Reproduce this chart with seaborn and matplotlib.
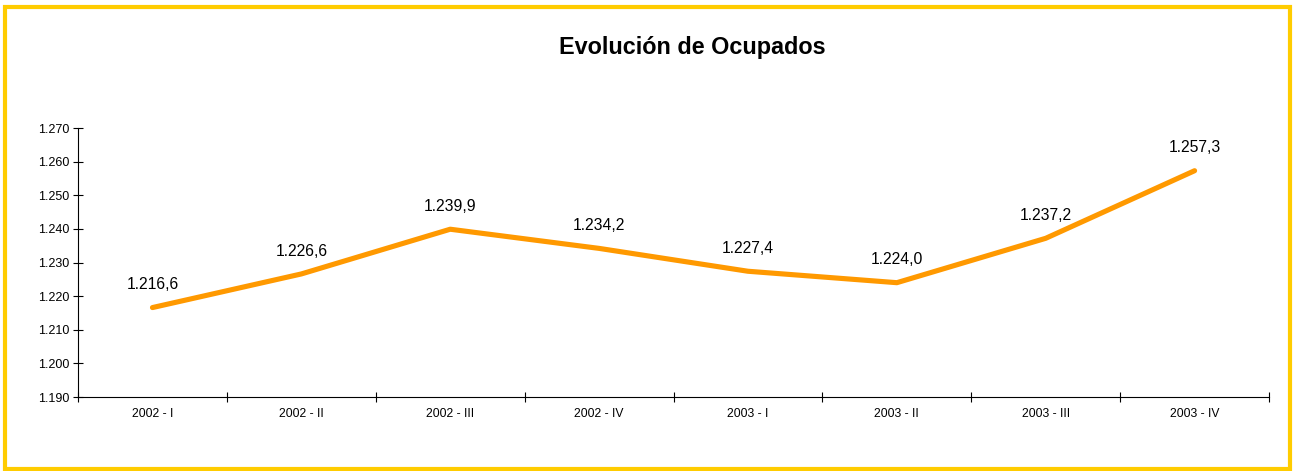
import seaborn as sns
import matplotlib.pyplot as plt
from matplotlib.patches import Rectangle
from matplotlib.ticker import FixedLocator, FuncFormatter

quarters = ['2002 - I', '2002 - II', '2002 - III', '2002 - IV',
            '2003 - I', '2003 - II', '2003 - III', '2003 - IV']
ocupados = [1216.6, 1226.6, 1239.9, 1234.2, 1227.4, 1224.0, 1237.2, 1257.3]
y_ticks = [1190, 1200, 1210, 1220, 1230, 1240, 1250, 1260, 1270]

sns.set_style('white')
plt.rcParams['font.family'] = ['Liberation Sans', 'DejaVu Sans']

fig = plt.figure(figsize=(12.94, 4.71), dpi=100)
ax = fig.add_axes([0.0603, 0.1571, 0.9204, 0.5711])

pos = list(range(len(quarters)))
sns.lineplot(x=pos, y=ocupados, ax=ax, color='#FF9900', linewidth=3.7,
             solid_capstyle='round', solid_joinstyle='round')


def es_num(v):
    s = f'{v:,.1f}'
    return s.replace(',', 'X').replace('.', ',').replace('X', '.')


for x, v in zip(pos, ocupados):
    ax.annotate(es_num(v), (x, v), xytext=(0, 11), textcoords='offset points',
                ha='center', va='bottom', fontsize=11.3, color='black')

ax.set_xlim(-0.5, len(quarters) - 0.5)
ax.set_ylim(1190, 1270)
ax.set_yticks(y_ticks)
ax.yaxis.set_major_formatter(FuncFormatter(lambda v, p: f'{v / 1000:.3f}'))

ax.xaxis.set_major_locator(FixedLocator([i - 0.5 for i in range(len(quarters) + 1)]))
ax.xaxis.set_major_formatter(FuncFormatter(lambda v, p: ''))
ax.xaxis.set_minor_locator(FixedLocator(pos))
ax.set_xticklabels(quarters, minor=True)
ax.tick_params(axis='x', which='minor', bottom=True, length=0, pad=8,
               labelsize=8.7, labelcolor='black')
ax.tick_params(axis='x', which='major', bottom=True, direction='inout',
               length=7, width=0.8, color='black')
ax.tick_params(axis='y', left=True, direction='inout', length=7, width=0.8,
               color='black', labelsize=9, labelcolor='black', pad=3)

for side in ['top', 'right']:
    ax.spines[side].set_visible(False)
for side in ['left', 'bottom']:
    ax.spines[side].set_color('black')
    ax.spines[side].set_linewidth(0.8)

fig.text(0.535, 0.9, 'Evolución de Ocupados', ha='center', va='center',
         fontsize=16.8, fontweight='bold', color='black')

fig.patches.append(Rectangle((0.004, 0.004), 0.993, 0.982, transform=fig.transFigure,
                             fill=False, edgecolor='#FFCC00', linewidth=3))

fig.savefig('out.png', dpi=100)
plt.close()
